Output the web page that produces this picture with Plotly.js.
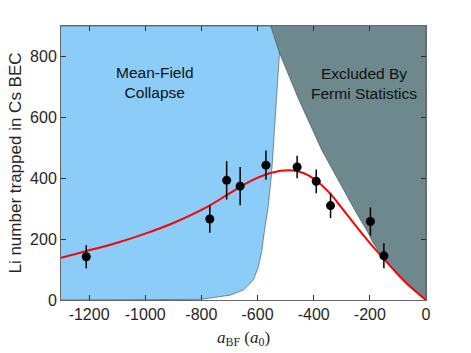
<!DOCTYPE html>
<html>
<head>
<meta charset="utf-8">
<script src="https://cdn.plot.ly/plotly-3.0.1.min.js"></script>
<style>
  html, body { margin: 0; padding: 0; background: #fff; }
  #chart { width: 471px; height: 353px; }
</style>
</head>
<body>
<div id="chart"></div>
<script>
// measured Li numbers vs interspecies scattering length
var aBF = [-1210, -770, -710, -662, -570, -459, -391, -340, -198, -150];
var liNumber = [142, 266, 393, 374, 443, 437, 390, 310, 258, 145];
var liErr = [38, 45, 63, 63, 48, 37, 39, 41, 46, 41];

// fit curve
var fitX = [-1300, -1208, -1100, -1000, -900, -781, -700, -620, -550, -484, -437, -389, -342, -294, -247, -199, -152, -104, -57, -21, 0];
var fitY = [139, 161, 188, 218, 253, 305, 350, 393, 418, 426, 417, 391, 350, 295, 240, 186, 137, 88, 44, 16, 0];

// mean-field collapse boundary
var collapseX = [-900, -805, -757, -698, -650, -615, -597, -585, -575, -562, -550, -542, -530, -522, -516];
var collapseY = [0, 2, 8, 16, 33, 66, 109, 160, 230, 306, 415, 525, 662, 809, 900];

// Fermi statistics boundary (joins the fit near -190)
var fermiX = [-553, -522, -455, -389, -371, -306, -247, -205, -190, -152, -104, -57, -21, 0];
var fermiY = [900, 812, 662, 525, 492, 383, 284, 219, 190, 137, 88, 44, 16, 0];

var xTicks = [-1200, -1000, -800, -600, -400, -200, 0];
var xLabels = ['-1200', '-1000', '-800', '-600', '-400', '-200', '0'];
var yTicks = [0, 200, 400, 600, 800];
var yLabels = ['0', '200', '400', '600', '800'];

var blue = {
    x: [-1300].concat(collapseX, [-1300]),
    y: [0].concat(collapseY, [900]),
    fill: 'toself', fillcolor: '#8bcdf8',
    mode: 'lines', line: {color: '#3a4a55', width: 0.6},
    hoverinfo: 'skip', showlegend: false
};

var gray = {
    x: fermiX.concat([0]),
    y: fermiY.concat([900]),
    fill: 'toself', fillcolor: '#6e898d',
    mode: 'lines', line: {color: '#3a4a4d', width: 0.6},
    hoverinfo: 'skip', showlegend: false
};

var fit = {
    x: fitX, y: fitY,
    mode: 'lines', line: {color: '#ff0000', width: 2, shape: 'spline', smoothing: 1},
    hoverinfo: 'skip', showlegend: false
};

var pts = {
    x: aBF, y: liNumber,
    mode: 'markers',
    marker: {color: '#000', size: 9},
    error_y: {type: 'data', array: liErr, visible: true, color: '#000', thickness: 1.5, width: 0},
    showlegend: false
};

var layout = {
    width: 471, height: 353,
    margin: {l: 61, r: 45, t: 26, b: 53},
    paper_bgcolor: '#fff', plot_bgcolor: '#fff',
    font: {family: 'Liberation Sans, Arial, sans-serif', size: 16, color: '#262626'},
    xaxis: {
        range: [-1300, 0], tickvals: xTicks, ticktext: xLabels,
        ticks: 'inside', ticklen: 5, tickcolor: '#333',
        showline: true, linecolor: '#666', linewidth: 1, mirror: 'allticks',
        showgrid: false, zeroline: false,
        tickfont: {size: 16},
        title: {text: '<i>a</i><sub>BF</sub> (<i>a</i><sub>0</sub>)',
                font: {family: 'Liberation Serif, Times New Roman, serif', size: 17, color: '#262626'},
                standoff: 8}
    },
    yaxis: {
        range: [0, 900], tickvals: yTicks, ticktext: yLabels,
        ticks: 'inside', ticklen: 5, tickcolor: '#333',
        showline: true, linecolor: '#666', linewidth: 1, mirror: 'allticks',
        showgrid: false, zeroline: false,
        tickfont: {size: 16},
        title: {text: 'Li number trapped in Cs BEC', font: {size: 17, color: '#262626'}, standoff: 4}
    },
    annotations: [
        {x: -965, y: 715, xref: 'x', yref: 'y', text: 'Mean-Field<br>Collapse',
         showarrow: false, font: {size: 15.5, color: '#111'}},
        {x: -221, y: 711, xref: 'x', yref: 'y', text: 'Excluded By<br>Fermi Statistics',
         showarrow: false, font: {size: 15.5, color: '#111'}}
    ]
};

Plotly.newPlot('chart', [blue, gray, fit, pts], layout, {displayModeBar: false, staticPlot: true});
</script>
</body>
</html>
